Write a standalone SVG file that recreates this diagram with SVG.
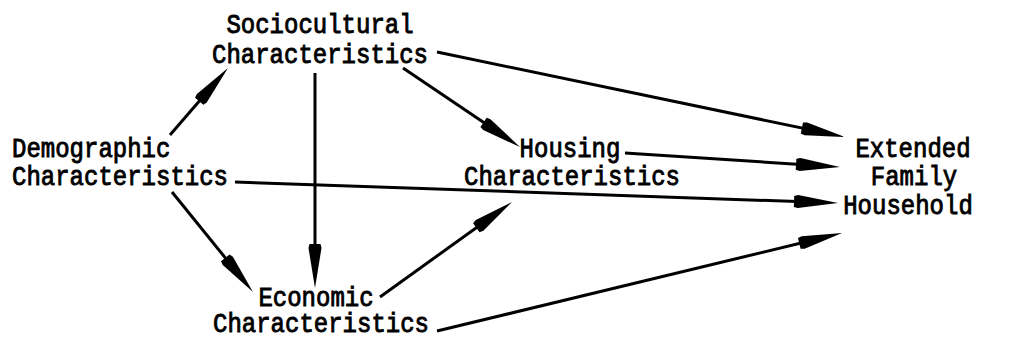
<svg xmlns="http://www.w3.org/2000/svg" width="1010" height="341" viewBox="0 0 1010 341">
  <style>
    .lbl { font-family: "Liberation Mono", "DejaVu Sans Mono", monospace; font-size: 24px; fill: #000; stroke: #000; stroke-width: 0.8px; }
    .mid { text-anchor: middle; }
    .edge { stroke: #000; stroke-width: 3; fill: none; marker-end: url(#head); }
  </style>
  <defs>
    <!-- long tapered arrowhead; the line stops 20px short of the tip -->
    <marker id="head" markerUnits="userSpaceOnUse" markerWidth="50" markerHeight="16" viewBox="-26 -8 50 16" refX="0" refY="0" orient="auto" overflow="visible">
      <path d="M20,0 L-20,-6.5 L-24,-5.5 L-24,5.5 L-20,6.5 Z" fill="#000"/>
    </marker>
  </defs>
  <rect width="1010" height="341" fill="#fff"/>

  <g id="connectors">
    <line class="edge" x1="170" y1="135" x2="214.9" y2="83.1"/>
    <line class="edge" x1="315" y1="73" x2="315" y2="268"/>
    <line class="edge" x1="403" y1="68" x2="503.4" y2="135.8"/>
    <line class="edge" x1="437" y1="52" x2="825.4" y2="132.9"/>
    <line class="edge" x1="625" y1="153" x2="820.0" y2="165.7"/>
    <line class="edge" x1="235" y1="182" x2="818.0" y2="202.3"/>
    <line class="edge" x1="172" y1="192" x2="240.4" y2="276.5"/>
    <line class="edge" x1="380" y1="297" x2="495.8" y2="213.7"/>
    <line class="edge" x1="437" y1="331" x2="822.6" y2="237.8"/>
  </g>

  <!-- labels are stretched a little vertically for the tall typewriter look -->
  <g id="sociocultural">
    <text class="lbl mid" transform="matrix(1,0,0,1.15,320,33)">Sociocultural</text>
    <text class="lbl mid" transform="matrix(1,0,0,1.15,320,63)">Characteristics</text>
  </g>
  <g id="demographic">
    <text class="lbl" transform="matrix(1,0,0,1.15,12,157)">Demographic</text>
    <text class="lbl" transform="matrix(1,0,0,1.15,12,185)">Characteristics</text>
  </g>
  <g id="housing">
    <text class="lbl mid" transform="matrix(1,0,0,1.15,570,157)">Housing</text>
    <text class="lbl mid" transform="matrix(1,0,0,1.15,572,185)">Characteristics</text>
  </g>
  <g id="economic">
    <text class="lbl mid" transform="matrix(1,0,0,1.15,316,306)">Economic</text>
    <text class="lbl mid" transform="matrix(1,0,0,1.15,321,332)">Characteristics</text>
  </g>
  <g id="household">
    <text class="lbl mid" transform="matrix(1,0,0,1.15,913,157)">Extended</text>
    <text class="lbl mid" transform="matrix(1,0,0,1.15,914,185)">Family</text>
    <text class="lbl mid" transform="matrix(1,0,0,1.15,908,214)">Household</text>
  </g>
</svg>
